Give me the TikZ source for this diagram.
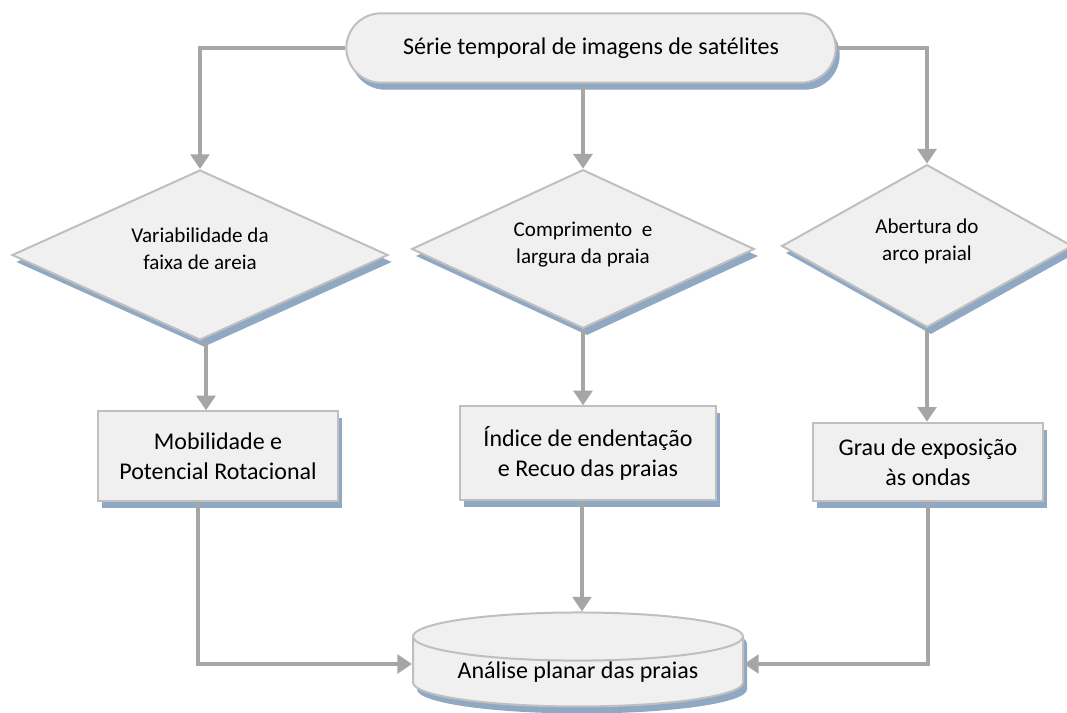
\documentclass[tikz,border=0pt]{standalone}
\usepackage{fontspec}
\setmainfont{Carlito}
\usetikzlibrary{shapes.geometric,shapes.misc,shadows,arrows.meta}
\definecolor{boxfill}{RGB}{240,240,240}
\definecolor{boxline}{RGB}{191,191,191}
\definecolor{linkgray}{RGB}{166,166,166}
\definecolor{shadowblue}{RGB}{143,168,196}
\begin{document}
\begin{tikzpicture}[x=0.75pt,y=-0.75pt,
        blueshadow/.style={general shadow={shadow xshift=3pt,shadow yshift=-5.25pt,fill=shadowblue}},
        base/.style={draw=boxline,line width=1.5pt,fill=boxfill,blueshadow,align=center,inner sep=0pt},
        bigtext/.style={font=\fontsize{18}{22.5}\selectfont},
        smalltext/.style={font=\fontsize{15.8}{20}\selectfont},
        decision/.style={base,diamond,aspect=2.2,smalltext},
        result/.style={base,rectangle,bigtext},
        link/.style={draw=linkgray,line width=2.8pt,-{Triangle[length=11pt,width=14pt]}}]
            \useasboundingbox (0,0) rectangle (1067,713);

            \node[base,rounded rectangle,bigtext,minimum width=367pt,minimum height=52pt] (term) at (591,48) {Série temporal de imagens de satélites};

            \node[decision,minimum width=282pt,minimum height=127.5pt] (var) at (200,255) {Variabilidade da\\faixa de areia\\[-11pt]};
            \node[decision,minimum width=257pt,minimum height=119pt] (comp) at (583,249) {Comprimento\ \ e\\largura da praia\\[-11pt]};
            \node[decision,minimum width=218pt,minimum height=122pt] (abert) at (927,246) {Abertura do\\arco praial\\[-11pt]};

            \node[result,minimum width=180pt,minimum height=67pt] (mob) at (218,456) {Mobilidade e\\Potencial Rotacional};
            \node[result,minimum width=192pt,minimum height=70pt] (ind) at (588,453) {Índice de endentação\\e Recuo das praias};
            \node[result,minimum width=172pt,minimum height=59pt] (grau) at (928,462) {Grau de exposição\\às ondas};

            \node[base,cylinder,shape border rotate=90,aspect=0.2,bigtext,minimum width=247.5pt,minimum height=70.5pt] (anal) at (578,672) {Análise planar das praias};

            \draw[link] (term.west) -| (var.north);
            \draw[link] (term.south -| comp.north) -- (comp.north);
            \draw[link] (term.east) -| (abert.north);

            \draw[link] ([xshift=4.5pt]var.south) -- ([xshift=4.5pt]var.south |- mob.north);
            \draw[link] (comp.south) -- (comp.south |- ind.north);
            \draw[link] (abert.south) -- (abert.south |- grau.north);

            \draw[link] ([xshift=-15pt]mob.south) |- ([yshift=6pt]anal.west);
            \draw[link] ([xshift=-4.5pt]ind.south) -- ([xshift=-4.5pt]ind.south |- anal.top);
            \draw[link] (grau.south) |- ([yshift=6pt]anal.east);
\end{tikzpicture}
\end{document}
